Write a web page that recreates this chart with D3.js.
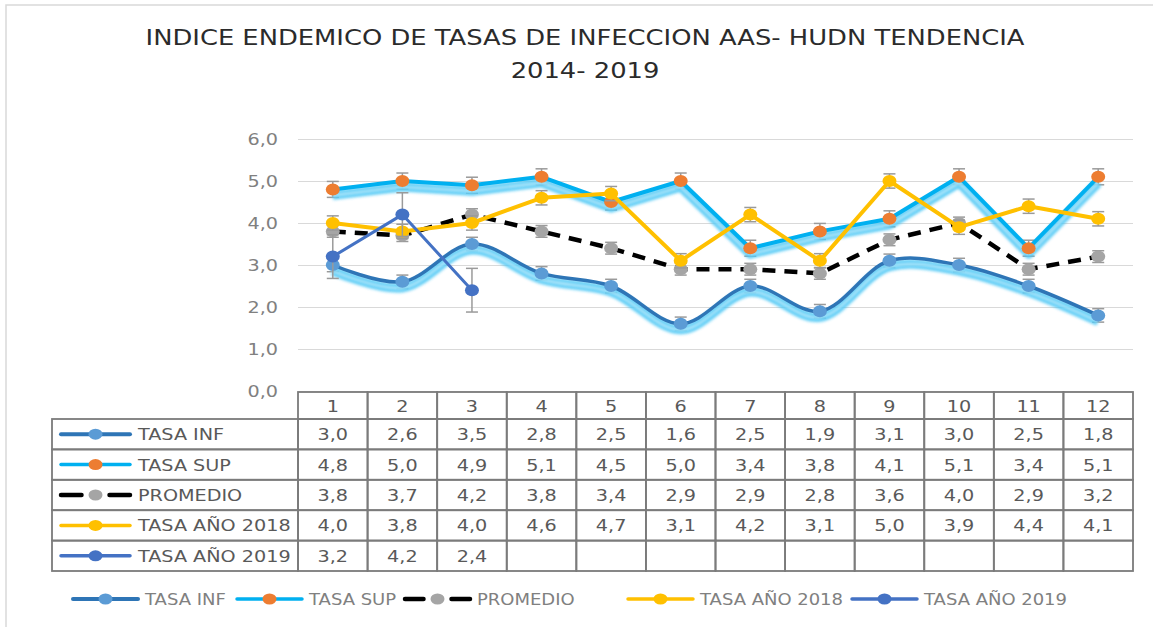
<!DOCTYPE html>
<html>
<head>
<meta charset="utf-8">
<script src="https://cdn.jsdelivr.net/npm/d3@7/dist/d3.min.js"></script>
<style>
  html, body { margin: 0; padding: 0; background: #fff; }
  svg { display: block; font-family: "DejaVu Sans", Verdana, sans-serif; }
</style>
</head>
<body>
<svg id="chart" width="1153" height="627"></svg>
<script>
// ---- data ----
const months = ["1", "2", "3", "4", "5", "6", "7", "8", "9", "10", "11", "12"];
const seriesNames = ["TASA INF", "TASA SUP", "PROMEDIO", "TASA AÑO 2018", "TASA AÑO 2019"];
const tasaInf = [3.0, 2.6, 3.5, 2.8, 2.5, 1.6, 2.5, 1.9, 3.1, 3.0, 2.5, 1.8];
const tasaSup = [4.8, 5.0, 4.9, 5.1, 4.5, 5.0, 3.4, 3.8, 4.1, 5.1, 3.4, 5.1];
const promedio = [3.8, 3.7, 4.2, 3.8, 3.4, 2.9, 2.9, 2.8, 3.6, 4.0, 2.9, 3.2];
const tasa2018 = [4.0, 3.8, 4.0, 4.6, 4.7, 3.1, 4.2, 3.1, 5.0, 3.9, 4.4, 4.1];
const tasa2019 = [3.2, 4.2, 2.4];
// standard-error bar size per series (same order as seriesNames)
const errorBars = [0.16, 0.19, 0.14, 0.17, 0.52];
const yTicks = [0, 1, 2, 3, 4, 5, 6];
const titleLines = ["INDICE ENDEMICO DE TASAS DE INFECCION AAS- HUDN TENDENCIA", "2014- 2019"];

// ---- layout ----
const SX = 1.2;                 // horizontal text stretch
const plotLeft = 298, plotRight = 1133;
const svg = d3.select("#chart");
const fmt = v => v.toFixed(1).replace(".", ",");

const x = d3.scaleBand().domain(months).range([plotLeft, plotRight]);
const y = d3.scaleLinear().domain([0, 6]).range([391, 139]);
const cx = m => x(m) + x.bandwidth() / 2;

function stext(parent, px, py, str, size, color, anchor, sx) {
  return parent.append("text")
    .attr("transform", `translate(${px},${py}) scale(${sx || SX},1)`)
    .attr("font-size", size)
    .attr("fill", color)
    .attr("text-anchor", anchor || "start")
    .text(str);
}

// chart frame
svg.append("path").attr("d", "M6,627 V5 H1153").attr("fill", "none")
  .attr("stroke", "#d9d9d9").attr("stroke-width", 1.5);

// title
stext(svg, 585, 45, titleLines[0], 21.5, "#2b2b2b", "middle", 1.2);
stext(svg, 585, 78, titleLines[1], 21.5, "#2b2b2b", "middle", 1.2);

// gridlines and y labels
const yAxis = d3.axisLeft(y).tickValues(yTicks).tickSize(-(plotRight - plotLeft)).tickFormat(fmt);
const ga = svg.append("g").attr("transform", `translate(${plotLeft},0)`).call(yAxis);
ga.select(".domain").remove();
ga.selectAll(".tick line").attr("stroke", "#d9d9d9").attr("stroke-width", 1.2);
ga.selectAll(".tick text").remove();
yTicks.forEach(t => stext(svg, 278, y(t) + 6, fmt(t), 16, "#808080", "end"));

// defs: blur for the glow under the limit lines
const defs = svg.append("defs");
defs.append("filter").attr("id", "soft").attr("x", "-5%").attr("y", "-20%").attr("width", "110%").attr("height", "140%")
  .append("feGaussianBlur").attr("stdDeviation", 1.6);

const series = [
  { name: seriesNames[0], values: tasaInf, line: "#2e75b6", marker: "#5b9bd5", width: 3.5, curve: d3.curveCatmullRom.alpha(0.5), glow: true },
  { name: seriesNames[1], values: tasaSup, line: "#00b0f0", marker: "#ed7d31", width: 4, curve: d3.curveLinear, glow: true },
  { name: seriesNames[2], values: promedio, line: "#000000", marker: "#a5a5a5", width: 4.5, curve: d3.curveLinear, dash: "13,9" },
  { name: seriesNames[3], values: tasa2018, line: "#ffc000", marker: "#ffc000", width: 4, curve: d3.curveLinear },
  { name: seriesNames[4], values: tasa2019, line: "#4472c4", marker: "#4472c4", width: 3, curve: d3.curveLinear }
];

const plot = svg.append("g");
series.forEach((s, si) => {
  const pts = s.values.map((v, i) => [cx(months[i]), y(v)]);
  const gen = d3.line().curve(s.curve);
  const g = plot.append("g");
  // error bars sit beneath the series line
  const e = errorBars[si];
  s.values.forEach((v, i) => {
    const px = cx(months[i]);
    g.append("line").attr("x1", px).attr("x2", px).attr("y1", y(v + e)).attr("y2", y(v - e))
      .attr("stroke", "#9a9a9a").attr("stroke-width", 1.5);
    [v + e, v - e].forEach(t => g.append("line").attr("x1", px - 6).attr("x2", px + 6)
      .attr("y1", y(t)).attr("y2", y(t)).attr("stroke", "#9a9a9a").attr("stroke-width", 1.5));
  });
  if (s.glow) {
    const gg = g.append("g").attr("transform", "translate(0,6)");
    gg.append("path").attr("d", gen(pts)).attr("fill", "none").attr("stroke", "#3ec3f4")
      .attr("stroke-width", 9).attr("stroke-linejoin", "round").attr("filter", "url(#soft)").attr("opacity", 0.85);
    gg.append("path").attr("d", gen(pts)).attr("fill", "none").attr("stroke", "#c9eefc")
      .attr("stroke-width", 2.2).attr("stroke-linejoin", "round").attr("filter", "url(#soft)");
  }
  g.append("path").attr("d", gen(pts)).attr("fill", "none").attr("stroke", s.line)
    .attr("stroke-width", s.width).attr("stroke-linejoin", "round")
    .attr("stroke-dasharray", s.dash || null);
  g.selectAll("ellipse.mk").data(s.values).join("ellipse").attr("class", "mk")
    .attr("cx", (d, i) => cx(months[i])).attr("cy", d => y(d))
    .attr("rx", 7).attr("ry", 6).attr("fill", s.marker);
});

// ---- data table ----
const tableLeft = 52, headTop = 392, headBottom = 419, tableBottom = 571;
const rowY = d3.scaleBand().domain(seriesNames).range([headBottom, tableBottom]);
const tg = svg.append("g");
const border = "#7b7b7b";

function legendKey(parent, s, x0, x1, yc) {
  const mid = (x0 + x1) / 2;
  if (s.dash) {
    parent.append("line").attr("x1", x0).attr("x2", mid - 14).attr("y1", yc).attr("y2", yc)
      .attr("stroke", s.line).attr("stroke-width", s.width).attr("stroke-linecap", "round");
    parent.append("line").attr("x1", mid + 14).attr("x2", x1).attr("y1", yc).attr("y2", yc)
      .attr("stroke", s.line).attr("stroke-width", s.width).attr("stroke-linecap", "round");
  } else {
    parent.append("line").attr("x1", x0).attr("x2", x1).attr("y1", yc).attr("y2", yc)
      .attr("stroke", s.line).attr("stroke-width", s === series[0] ? 4 : 3.5).attr("stroke-linecap", "round");
  }
  parent.append("ellipse").attr("cx", mid).attr("cy", yc).attr("rx", 7).attr("ry", 5.5).attr("fill", s.marker);
}

// header cells
months.forEach(m => {
  tg.append("rect").attr("x", x(m)).attr("y", headTop).attr("width", x.bandwidth()).attr("height", headBottom - headTop)
    .attr("fill", "none").attr("stroke", border).attr("stroke-width", 1.8);
  stext(tg, cx(m), (headTop + headBottom) / 2 + 6, m, 16, "#595959", "middle");
});
// body rows
series.forEach(s => {
  const top = rowY(s.name), h = rowY.bandwidth(), yc = top + h / 2;
  tg.append("rect").attr("x", tableLeft).attr("y", top).attr("width", plotLeft - tableLeft).attr("height", h)
    .attr("fill", "none").attr("stroke", border).attr("stroke-width", 1.8);
  legendKey(tg, s, 61, 130, yc);
  stext(tg, 138, yc + 6, s.name, 16, "#595959", "start");
  months.forEach((m, i) => {
    tg.append("rect").attr("x", x(m)).attr("y", top).attr("width", x.bandwidth()).attr("height", h)
      .attr("fill", "none").attr("stroke", border).attr("stroke-width", 1.8);
    if (i < s.values.length) stext(tg, cx(m), yc + 6, fmt(s.values[i]), 16, "#595959", "middle");
  });
});

// ---- bottom legend ----
const lg = svg.append("g");
const legendPos = [73, 237, 405, 628, 852];
series.forEach((s, i) => {
  const x0 = legendPos[i];
  legendKey(lg, s, x0, x0 + 65, 599);
  stext(lg, x0 + 72, 605, s.name, 15, "#808080", "start");
});
</script>
</body>
</html>
